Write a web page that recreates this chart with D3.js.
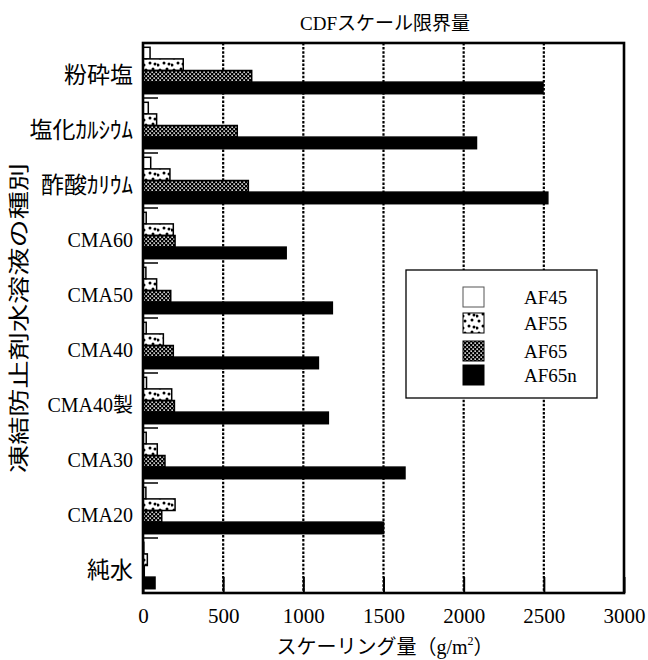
<!DOCTYPE html>
<html><head><meta charset="utf-8">
<script src="https://cdn.jsdelivr.net/npm/d3@7"></script>
<style>body{margin:0;background:#fff}</style>
</head><body><svg id="chart" width="648" height="660"></svg>
<script>
// Scaling amount by de-icer solution type (CDF test)
const categories = ["粉砕塩", "塩化ｶﾙｼｳﾑ", "酢酸ｶﾘｳﾑ", "CMA60", "CMA50", "CMA40", "CMA40製", "CMA30", "CMA20", "純水"];
const seriesNames = ["AF45", "AF55", "AF65", "AF65n"];
const af45  = [44, 33, 48, 20, 18, 20, 22, 20, 18, 5];
const af55  = [251, 85, 168, 189, 85, 127, 179, 89, 200, 27];
const af65  = [678, 588, 657, 200, 173, 189, 196, 137, 117, 8];
const af65n = [2495, 2080, 2525, 893, 1181, 1094, 1156, 1634, 1500, 75];
const xTicks = [0, 500, 1000, 1500, 2000, 2500, 3000];

const seriesValues = [af45, af55, af65, af65n];
const rows = categories.map((c, i) => ({
  cat: c,
  vals: seriesNames.map((s, j) => ({ key: s, value: seriesValues[j][i] }))
}));

const svg = d3.select("#chart");
const m = { left: 143, top: 43, right: 24, bottom: 67 };
const W = 648 - m.left - m.right, H = 660 - m.top - m.bottom;
const serif = "'Liberation Serif', 'DejaVu Serif', serif";
const cjk = "'Noto Sans CJK JP', sans-serif";
const mixed = "'Liberation Serif', 'Noto Sans CJK JP', serif";

// fill patterns
const defs = svg.append("defs");
const dots = defs.append("pattern").attr("id", "dots").attr("patternUnits", "userSpaceOnUse")
  .attr("width", 14).attr("height", 12);
dots.append("rect").attr("width", 14).attr("height", 12).attr("fill", "#fff");
[[3, 3], [10, 2], [7, 8], [12, 9], [1, 10]].forEach(([cx, cy]) =>
  dots.append("circle").attr("cx", cx).attr("cy", cy).attr("r", 1.5).attr("fill", "#000"));
const chk = defs.append("pattern").attr("id", "checker").attr("patternUnits", "userSpaceOnUse")
  .attr("width", 4).attr("height", 4);
chk.append("rect").attr("width", 4).attr("height", 4).attr("fill", "#000");
chk.append("rect").attr("x", 0.4).attr("y", 0.4).attr("width", 1.5).attr("height", 1.5).attr("fill", "#fff");
chk.append("rect").attr("x", 2.4).attr("y", 2.4).attr("width", 1.5).attr("height", 1.5).attr("fill", "#fff");

const fills = d3.scaleOrdinal().domain(seriesNames)
  .range(["#fff", "url(#dots)", "url(#checker)", "#000"]);

const x = d3.scaleLinear().domain([0, 3000]).range([0, W]);
const y0 = d3.scaleBand().domain(categories).range([0, H]).padding(0);
const y1 = d3.scaleBand().domain(seriesNames).range([0, y0.bandwidth()]).paddingOuter(0.37).paddingInner(0);

const g = svg.append("g").attr("transform", `translate(${m.left},${m.top})`);

// dotted vertical grid
g.append("g").selectAll("line").data(xTicks.slice(1, -1)).join("line")
  .attr("x1", d => x(d)).attr("x2", d => x(d)).attr("y1", 0).attr("y2", H)
  .attr("stroke", "#000").attr("stroke-width", 2.2).attr("stroke-dasharray", "2.5,1.6");

// bars
const grp = g.append("g").selectAll("g").data(rows).join("g")
  .attr("transform", d => `translate(0,${y0(d.cat)})`);
grp.selectAll("rect").data(d => d.vals).join("rect")
  .attr("x", 0).attr("y", d => y1(d.key))
  .attr("width", d => x(d.value)).attr("height", y1.bandwidth())
  .attr("fill", d => fills(d.key)).attr("stroke", "#000").attr("stroke-width", 1.5);

// x axis: inward ticks and labels
const xAxis = d3.axisBottom(x).tickValues(xTicks).tickFormat(d3.format("d"))
  .tickSizeInner(-16).tickSizeOuter(0).tickPadding(30);
const xa = g.append("g").attr("transform", `translate(0,${H})`).call(xAxis);
xa.attr("font-family", null).attr("font-size", null);
xa.select(".domain").remove();
xa.selectAll(".tick line").attr("stroke", "#000").attr("stroke-width", 2);
xa.selectAll(".tick text").style("font-family", serif).style("font-size", "21px").attr("fill", "#000")
  .attr("dy", 0).attr("y", 30);

// y axis: category labels, inward ticks at category boundaries
const yAxis = d3.axisLeft(y0).tickSize(0).tickPadding(10);
const ya = g.append("g").call(yAxis);
ya.attr("font-family", null).attr("font-size", null);
ya.select(".domain").remove();
ya.selectAll(".tick text").attr("fill", "#000").attr("dy", "0.35em").attr("y", 4)
  .style("font-family", d => /CMA/.test(d) ? mixed : cjk)
  .style("font-size", d => /CMA/.test(d) ? "20px" : "23px");
g.append("g").selectAll("line").data(categories.slice(1)).join("line")
  .attr("x1", 0).attr("x2", 15).attr("y1", d => y0(d)).attr("y2", d => y0(d))
  .attr("stroke", "#000").attr("stroke-width", 1.5);

// frame
g.append("rect").attr("width", W).attr("height", H).attr("fill", "none")
  .attr("stroke", "#000").attr("stroke-width", 2.6);

// legend
const lg = svg.append("g").attr("transform", "translate(406,270)");
lg.append("rect").attr("width", 191).attr("height", 128).attr("fill", "#fff")
  .attr("stroke", "#000").attr("stroke-width", 1.3);
const swY = [17, 43, 71, 95];
seriesNames.forEach((s, i) => {
  lg.append("rect").attr("x", 57).attr("y", swY[i]).attr("width", 21).attr("height", 20)
    .attr("fill", fills(s)).attr("stroke", i === 0 ? "#555" : "#000").attr("stroke-width", 1);
  lg.append("text").attr("x", 118).attr("y", swY[i] + 10).attr("dy", "0.35em")
    .style("font-family", serif).style("font-size", "19px").text(s);
});

// titles
svg.append("text").attr("x", 385).attr("y", 30).attr("text-anchor", "middle")
  .style("font-family", mixed).style("font-size", "19px").text("CDFスケール限界量");
const xl = svg.append("text").attr("x", 385).attr("y", 654).attr("text-anchor", "middle")
  .style("font-family", mixed).style("font-size", "20px");
xl.append("tspan").text("スケーリング量（g/m");
xl.append("tspan").style("font-size", "12px").attr("dy", -9).text("2");
xl.append("tspan").attr("dy", 9).text("）");
svg.append("text").attr("transform", "translate(26,318) rotate(-90)").attr("text-anchor", "middle")
  .style("font-family", cjk).style("font-size", "21px")
  .attr("textLength", 310).attr("lengthAdjust", "spacingAndGlyphs")
  .text("凍結防止剤水溶液の種別");
</script>
</body></html>
